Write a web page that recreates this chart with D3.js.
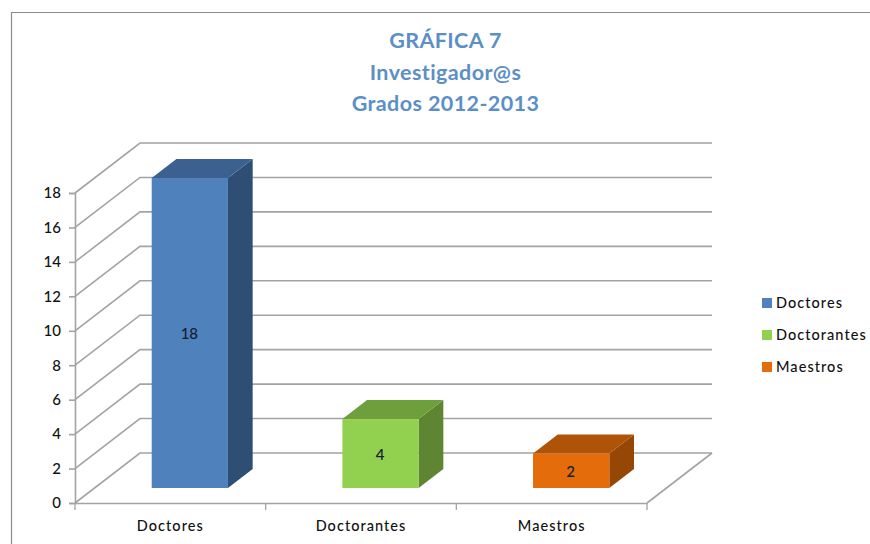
<!DOCTYPE html>
<html><head><meta charset="utf-8">
<script src="https://cdnjs.cloudflare.com/ajax/libs/d3/7.8.5/d3.min.js"></script>
<style>html,body{margin:0;padding:0;background:#fff;overflow:hidden}svg{display:block}text{font-family:Lato,"Open Sans",sans-serif}</style>
</head><body><svg id="c" width="870" height="544"></svg>
<script>
const titleLines = ["GRÁFICA 7", "Investigador@s", "Grados 2012-2013"];
const categories = ["Doctores", "Doctorantes", "Maestros"];
const values = [18, 4, 2];
const yTicks = [0, 2, 4, 6, 8, 10, 12, 14, 16, 18];
const frontColors = ["#4f81bd", "#92d050", "#e46c0a"];
const topColors = ["#3c6190", "#6f9e3d", "#ae5308"];
const sideColors = ["#2f4e74", "#5e8632", "#964706"];

const svg = d3.select("#c");
const gridColor = "#a3a3a3", textColor = "#111";
const y = d3.scaleLinear().domain([0, 18]).range([503, 193]);
const x = d3.scaleBand().domain(categories).range([75, 647]);
const depth = {dx: 65, dy: -50};
const barStart = 0.3, barDepth = 0.38, barFrac = 0.4;

// frame
svg.append("path").attr("d", "M11.5,544V12.5H870").attr("fill", "none").attr("stroke", "#8c8c8c").attr("stroke-width", 1.2);

// title
svg.append("g").selectAll("text").data(titleLines).join("text")
  .attr("x", 445.5).attr("y", (d, i) => 48 + i * 31.5).attr("text-anchor", "middle")
  .attr("font-size", 21.5).attr("font-weight", 700).attr("letter-spacing", 0.4).attr("fill", "#5b8fc7").text(d => d);

// walls + floor
const grid = svg.append("g").attr("fill", "none").attr("stroke", gridColor).attr("stroke-width", 1.6);
grid.selectAll("path.g").data(yTicks).join("path").attr("class", "g")
  .attr("d", d => `M75,${y(d)}L${75 + depth.dx},${y(d) + depth.dy}H${647 + depth.dx}`);
grid.append("path").attr("d", `M${647 + depth.dx},${y(0) + depth.dy}L647,${y(0)}`);

// axes
const yAxis = svg.append("g").attr("transform", "translate(75,0)")
  .call(d3.axisLeft(y).tickValues(yTicks).tickSize(6).tickPadding(8));
const xAxis = svg.append("g").attr("transform", `translate(0,${y(0)})`)
  .call(d3.axisBottom(x).tickSize(0).tickPadding(18));
svg.append("g").selectAll("line").data(d3.range(categories.length + 1)).join("line")
  .attr("x1", i => 75 + i * x.bandwidth()).attr("x2", i => 75 + i * x.bandwidth())
  .attr("y1", y(0)).attr("y2", y(0) + 7).attr("stroke", gridColor).attr("stroke-width", 1.3);
[yAxis, xAxis].forEach(a => {
  a.selectAll(".domain,.tick line").attr("stroke", gridColor).attr("stroke-width", 1.6);
  a.selectAll("text").attr("fill", textColor).style("font-family", "Lato,sans-serif").attr("font-weight", 500).attr("font-size", 14.5);
});
yAxis.selectAll("text").attr("font-size", 15);
xAxis.selectAll("text").attr("letter-spacing", 1.05);

// bars
const w = x.bandwidth() * barFrac;
const ox = depth.dx * barStart, oy = depth.dy * barStart;
const ddx = depth.dx * barDepth, ddy = depth.dy * barDepth;
const bars = svg.append("g").selectAll("g").data(categories).join("g");
bars.each(function (d, i) {
  const g = d3.select(this);
  const L = x(d) + (x.bandwidth() - w) / 2 + ox, T = y(values[i]) + oy, B = y(0) + oy;
  g.append("path").attr("fill", sideColors[i])
    .attr("d", `M${L + w},${T}l${ddx},${ddy}V${B + ddy}L${L + w},${B}Z`);
  g.append("path").attr("fill", topColors[i])
    .attr("d", `M${L},${T}l${ddx},${ddy}h${w}l${-ddx},${-ddy}Z`);
  g.append("rect").attr("x", L).attr("y", T).attr("width", w).attr("height", B - T).attr("fill", frontColors[i]);
  g.append("text").attr("x", L + w / 2 - 0.5).attr("y", (T + B) / 2 + 6).attr("text-anchor", "middle")
    .attr("font-size", 15).attr("font-weight", 500).attr("fill", "#14202e").text(values[i]);
});

// legend
const lg = svg.append("g").selectAll("g").data(categories).join("g")
  .attr("transform", (d, i) => `translate(762,${303 + i * 32})`);
lg.append("rect").attr("y", -5).attr("width", 10).attr("height", 10).attr("fill", (d, i) => frontColors[i]);
lg.append("text").attr("x", 14).attr("y", 5).attr("font-size", 14.5).attr("font-weight", 500)
  .attr("letter-spacing", 1.05).attr("fill", textColor).text(d => d);
</script></body></html>
